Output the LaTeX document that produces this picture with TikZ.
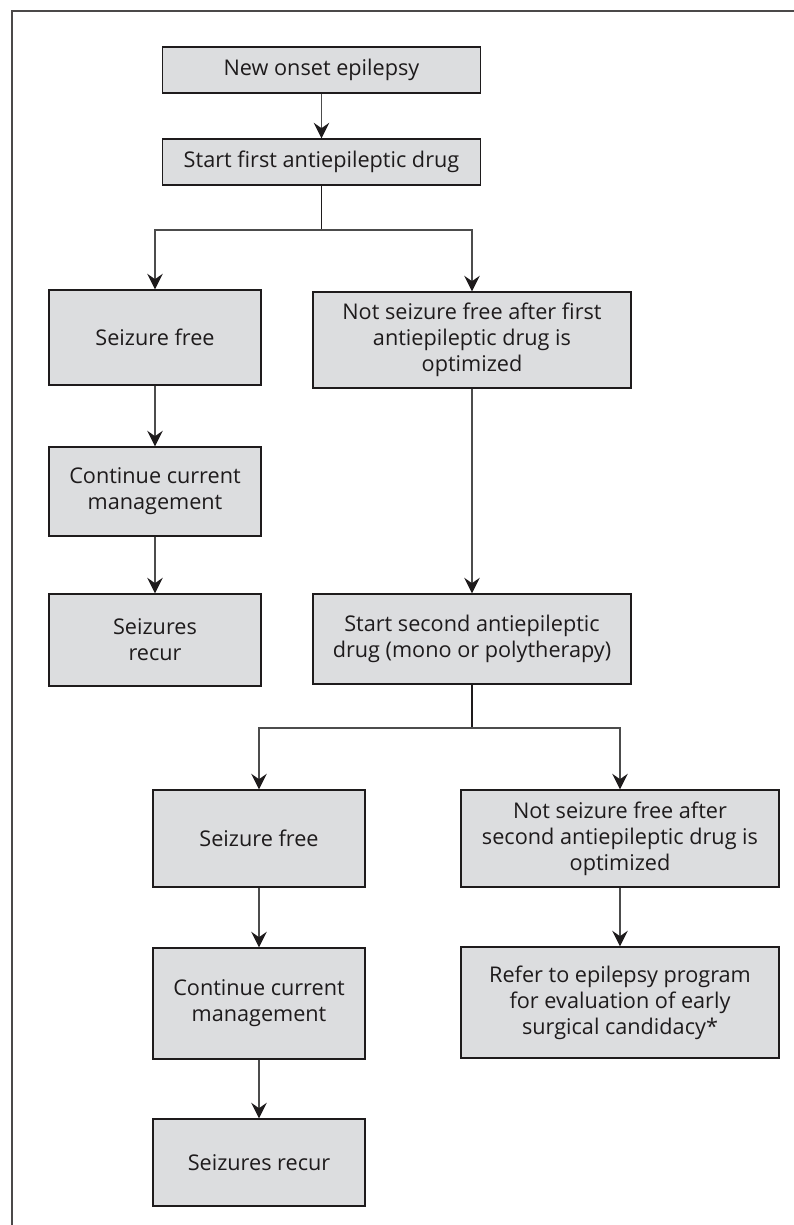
\documentclass[tikz,border=0pt]{standalone}
\usepackage{fontspec}
\setmainfont{Open Sans}
\usetikzlibrary{arrows.meta, positioning}
\definecolor{boxfill}{RGB}{220,221,223}
\definecolor{ink}{RGB}{30,27,28}

\begin{document}
\begin{tikzpicture}[x=0.025cm, y=-0.025cm,
    box/.style={draw=ink, line width=1pt, fill=boxfill, align=center,
        inner sep=0pt, text=ink, font=\fontsize{15.4}{18.6}\selectfont},
    small/.style={minimum width=5.3cm},
    wide/.style={minimum width=7.95cm},
    arr/.style={draw=black!70, line width=1.1pt,
        -{Stealth[length=11pt, width=11pt, inset=3.8pt, color=ink]}},
    trunk/.style={draw=ink, line width=1.4pt}]
    \useasboundingbox (0,0) rectangle (794,1225);

    % Frame
    \draw[draw=ink!80, line width=0.9pt] (794,11) -- (12,11) -- (12,1225);

    % Add the boxes
    \node[box, wide, minimum height=1.15cm] (onset) at (321.5,70) {New onset epilepsy};
    \node[box, wide, minimum height=1.15cm] (first) at (321.5,162) {Start first antiepileptic drug};
    \node[box, small, minimum height=2.375cm] (free1) at (155,337.5) {Seizure free};
    \node[box, wide, minimum height=2.4cm] (notfree1) at (472,340)
        {Not seizure free after first\\antiepileptic drug is\\optimized};
    \node[box, small, minimum height=2.225cm] (cont1) at (155,491.5) {Continue current\\management};
    \node[box, small, minimum height=2.3cm] (recur1) at (155,640) {Seizures\\recur};
    \node[box, wide, minimum height=2.25cm] (second) at (472,639)
        {Start second antiepileptic\\drug (mono or polytherapy)};
    \node[box, small, minimum height=2.425cm] (free2) at (259,838.5) {Seizure free};
    \node[box, wide, minimum height=2.425cm] (notfree2) at (620,838.5)
        {Not seizure free after\\second antiepileptic drug is\\optimized};
    \node[box, small, minimum height=2.775cm] (cont2) at (259,1003.5) {Continue current\\management};
    \node[box, wide, minimum height=2.775cm] (refer) at (620,1002.5)
        {Refer to epilepsy program\\for evaluation of early\\surgical candidacy*};
    \node[box, small, minimum height=2.175cm] (recur2) at (259,1162.5) {Seizures recur};

    % Split points
    \coordinate (split1) at (321.5,230);
    \coordinate (split2) at (472,728);

    % Add the arrows
    \draw[arr] (onset) -- (first);
    \draw[trunk] (first) -- (split1);
    \draw[arr] (split1) -| (free1);
    \draw[arr] (split1) -| (notfree1);
    \draw[arr] (free1) -- (cont1);
    \draw[arr] (cont1) -- (recur1);
    \draw[arr] (notfree1) -- (second);
    \draw[trunk] (second) -- (split2);
    \draw[arr] (split2) -| (free2);
    \draw[arr] (split2) -| (notfree2);
    \draw[arr] (free2) -- (cont2);
    \draw[arr] (cont2) -- (recur2);
    \draw[arr] (notfree2) -- (refer);
\end{tikzpicture}
\end{document}
